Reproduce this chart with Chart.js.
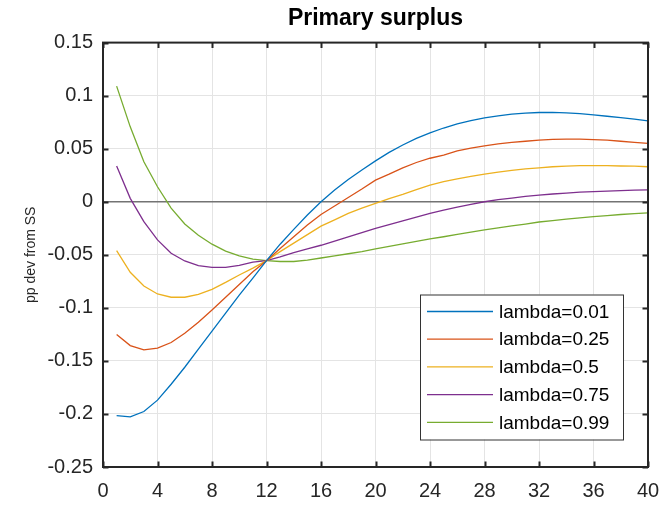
<!DOCTYPE html>
<html lang="en">
<head>
<meta charset="UTF-8">
<title>Primary surplus</title>
<script src="https://cdn.jsdelivr.net/npm/chart.js"></script>
<style>
  body { margin: 0; background: #fff; }
</style>
</head>
<body>
<canvas id="surplusChart" width="664" height="505"></canvas>
<script>
// periods after the shock
const periods = [1, 2, 3, 4, 5, 6, 7, 8, 9, 10, 11, 12, 13, 14, 15, 16, 17, 18, 19, 20,
                 21, 22, 23, 24, 25, 26, 27, 28, 29, 30, 31, 32, 33, 34, 35, 36, 37, 38, 39, 40];

// pp deviation from steady state, one array per lambda
const lambda001 = [-0.2015, -0.2027, -0.1977, -0.187, -0.172, -0.156, -0.139, -0.122, -0.105, -0.088,
                   -0.072, -0.0555, -0.040, -0.026, -0.0125, 0.000, 0.011, 0.021, 0.030, 0.0385,
                   0.0465, 0.0535, 0.0598, 0.065, 0.0695, 0.0735, 0.0765, 0.079, 0.081, 0.0825,
                   0.0835, 0.0841, 0.0843, 0.0838, 0.083, 0.0818, 0.0806, 0.0792, 0.0778, 0.0763];
const lambda025 = [-0.1252, -0.1356, -0.1396, -0.138, -0.1327, -0.124, -0.1135, -0.102, -0.090, -0.078,
                   -0.066, -0.0555, -0.044, -0.033, -0.022, -0.012, -0.004, 0.004, 0.012, 0.0204,
                   0.026, 0.032, 0.037, 0.041, 0.044, 0.048, 0.0505, 0.0527, 0.0545, 0.056,
                   0.057, 0.058, 0.0587, 0.059, 0.059, 0.0585, 0.058, 0.057, 0.056, 0.055];
const lambda050 = [-0.0461, -0.0665, -0.0794, -0.0869, -0.090, -0.090, -0.0872, -0.0825, -0.076, -0.069,
                   -0.0625, -0.0555, -0.047, -0.039, -0.031, -0.023, -0.017, -0.011, -0.006, -0.0015,
                   0.003, 0.007, 0.0115, 0.0157, 0.019, 0.0215, 0.024, 0.026, 0.028, 0.0295,
                   0.031, 0.032, 0.033, 0.0335, 0.034, 0.034, 0.034, 0.0337, 0.0335, 0.033];
const lambda075 = [0.0336, 0.0032, -0.0188, -0.036, -0.0486, -0.0558, -0.0603, -0.0618, -0.0618, -0.060,
                   -0.057, -0.0555, -0.052, -0.048, -0.0445, -0.041, -0.037, -0.033, -0.029, -0.025,
                   -0.0215, -0.018, -0.0145, -0.011, -0.008, -0.005, -0.0025, 0.000, 0.002, 0.0035,
                   0.005, 0.0063, 0.0073, 0.0082, 0.009, 0.0095, 0.010, 0.0105, 0.011, 0.0112];
const lambda099 = [0.109, 0.0706, 0.0377, 0.0141, -0.006, -0.021, -0.0315, -0.040, -0.0465, -0.051,
                   -0.054, -0.0555, -0.0563, -0.0563, -0.055, -0.053, -0.051, -0.049, -0.047, -0.0445,
                   -0.042, -0.0397, -0.0374, -0.035, -0.033, -0.0308, -0.0287, -0.0266, -0.0247, -0.0228,
                   -0.021, -0.0191, -0.0177, -0.0164, -0.0152, -0.0141, -0.013, -0.012, -0.0112, -0.0104];

const seriesLabels = ['lambda=0.01', 'lambda=0.25', 'lambda=0.5', 'lambda=0.75', 'lambda=0.99'];
const seriesValues = [lambda001, lambda025, lambda050, lambda075, lambda099];
const seriesColors = ['#0072BD', '#D95319', '#EDB120', '#7E2F8E', '#77AC30'];

const xTickValues = [0, 4, 8, 12, 16, 20, 24, 28, 32, 36, 40];
const yTickValues = [-0.25, -0.2, -0.15, -0.1, -0.05, 0, 0.05, 0.1, 0.15];

const FONT = '"Liberation Sans", Arial, Helvetica, sans-serif';
const INK = '#262626';

// matlab style box with inward ticks
const boxPlugin = {
    id: 'box',
    afterDraw(chart) {
        const ctx = chart.ctx;
        const a = chart.chartArea;
        const xs = chart.scales.x, ys = chart.scales.y;
        const len = 5.5;
        ctx.save();
        ctx.strokeStyle = INK;
        ctx.lineWidth = 2;
        ctx.beginPath();
        xTickValues.forEach(v => {
            const px = Math.round(xs.getPixelForValue(v)) + 0.5;
            ctx.moveTo(px, a.bottom); ctx.lineTo(px, a.bottom - len);
            ctx.moveTo(px, a.top); ctx.lineTo(px, a.top + len);
        });
        yTickValues.forEach(v => {
            const py = Math.round(ys.getPixelForValue(v)) + 0.5;
            ctx.moveTo(a.left, py); ctx.lineTo(a.left + len, py);
            ctx.moveTo(a.right, py); ctx.lineTo(a.right - len, py);
        });
        ctx.stroke();
        ctx.strokeRect(a.left, a.top, a.right - a.left, a.bottom - a.top);
        ctx.restore();
    }
};

// legend box inside the plot, lower right
const insideLegend = {
    id: 'insideLegend',
    afterDraw(chart) {
        const ctx = chart.ctx;
        const a = chart.chartArea;
        const w = 203, rowH = 27.7;
        const h = 145;
        const x0 = a.right - 25 - w;
        const y0 = a.bottom - 27.5 - h;
        ctx.save();
        ctx.fillStyle = '#fff';
        ctx.fillRect(x0, y0, w, h);
        ctx.strokeStyle = '#333';
        ctx.lineWidth = 1;
        ctx.strokeRect(x0 + 0.5, y0 + 0.5, w, h);
        ctx.font = '19px ' + FONT;
        ctx.textBaseline = 'middle';
        ctx.fillStyle = '#000';
        chart.data.datasets.forEach((ds, i) => {
            const cy = y0 + 17 + i * rowH;
            ctx.strokeStyle = ds.borderColor;
            ctx.lineWidth = 1.3;
            ctx.beginPath();
            ctx.moveTo(x0 + 7, cy);
            ctx.lineTo(x0 + 73, cy);
            ctx.stroke();
            ctx.fillText(ds.label, x0 + 79, cy + 1);
        });
        ctx.restore();
    }
};

const datasets = seriesLabels.map((label, i) => ({
    label: label,
    data: periods.map((p, j) => ({ x: p, y: seriesValues[i][j] })),
    borderColor: seriesColors[i],
    backgroundColor: seriesColors[i],
    borderWidth: 1.3,
    pointRadius: 0,
    fill: false,
    tension: 0
}));

const ctx = document.getElementById('surplusChart').getContext('2d');
const surplusChart = new Chart(ctx, {
    type: 'line',
    data: { datasets: datasets },
    options: {
        responsive: false,
        animation: false,
        layout: { padding: { left: 0, right: 16, top: 0, bottom: 0 } },
        plugins: {
            legend: { display: false },
            tooltip: { enabled: false },
            title: {
                display: true,
                text: 'Primary surplus',
                fullSize: false,
                color: '#000',
                font: { family: FONT, size: 23, weight: 'bold' },
                padding: { top: 5, bottom: 10 }
            }
        },
        scales: {
            x: {
                type: 'linear',
                min: 0,
                max: 40,
                afterBuildTicks(scale) { scale.ticks = xTickValues.map(v => ({ value: v })); },
                afterFit(scale) {
                    scale.height = 38;
                    scale.paddingLeft = 0;
                    scale.paddingRight = 0;
                },
                grid: { color: '#e4e4e4', lineWidth: 1, drawTicks: false },
                border: { display: false },
                ticks: { color: INK, padding: 12, font: { family: FONT, size: 20 }, maxRotation: 0 }
            },
            y: {
                min: -0.25,
                max: 0.15,
                afterBuildTicks(scale) { scale.ticks = yTickValues.map(v => ({ value: v })); },
                afterFit(scale) {
                    scale.width = 103;
                    scale.paddingTop = 0;
                    scale.paddingBottom = 0;
                },
                grid: {
                    color: c => (c.tick && c.tick.value === 0 ? '#737373' : '#e4e4e4'),
                    lineWidth: c => (c.tick && c.tick.value === 0 ? 1.5 : 1),
                    drawTicks: false
                },
                border: { display: false },
                title: {
                    display: true,
                    text: 'pp dev from SS',
                    color: INK,
                    font: { family: FONT, size: 14 },
                    padding: { top: 23, bottom: 0 }
                },
                ticks: {
                    color: INK,
                    padding: 10,
                    font: { family: FONT, size: 20 },
                    callback: v => String(parseFloat(v.toFixed(2)))
                }
            }
        }
    },
    plugins: [boxPlugin, insideLegend]
});
</script>
</body>
</html>
